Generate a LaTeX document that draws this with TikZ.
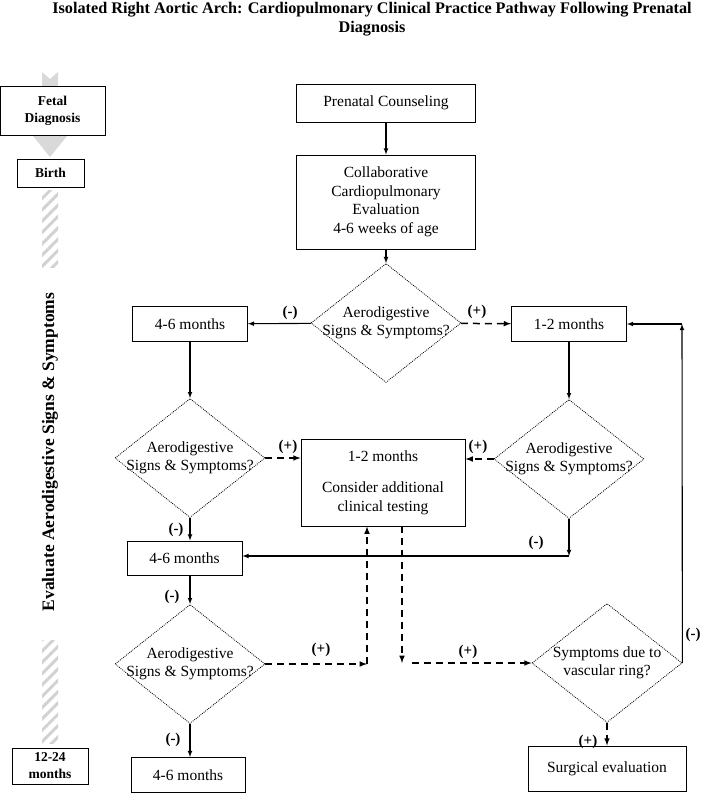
\documentclass[tikz,border=0pt]{standalone}
\usepackage{fontspec}
\setmainfont{Liberation Serif}
\usetikzlibrary{shapes.geometric,patterns.meta}
\newcommand{\flowFont}{\fontsize{15.5}{18.5}\selectfont}
\newcommand{\signFont}{\fontsize{15}{17}\selectfont\bfseries}
\newcommand{\timeFont}{\fontsize{13.5}{17}\selectfont\bfseries}
\newcommand{\aeroQ}{Aerodigestive\\Signs \& Symptoms?}
\tikzset{
  procBox/.style={draw, line width=0.9pt, fill=white, align=center, inner sep=0pt, font=\flowFont},
  timeBox/.style={draw, line width=0.9pt, fill=white, align=center, inner sep=0pt, font=\timeFont},
  decision/.style={diamond, draw, line width=0.8pt, dash pattern=on 0.9pt off 1.1pt,
    inner sep=0pt, minimum width=150pt, minimum height=119pt},
  qText/.style={align=center, font=\flowFont},
  sign/.style={font=\signFont},
  negArrow/.style={->, line width=1.1pt},
  posArrow/.style={->, line width=1.5pt, dash pattern=on 7pt off 5pt},
  hatchBar/.style={pattern={Lines[angle=45,distance=8pt,line width=3pt]}, pattern color=gray!35}
}

\begin{document}
\begin{tikzpicture}[x=1pt,y=-1pt,>=latex]
\useasboundingbox (0,0) rectangle (702,795);

% Title
\node[align=center, font=\fontsize{16.2}{19}\selectfont\bfseries] (title) at (372,19)
  {Isolated Right Aortic Arch: Cardiopulmonary Clinical Practice Pathway Following Prenatal\\Diagnosis};

% Time line on the left
\fill[gray!30] (42,72) -- (50,79) -- (58,72) -- (58,136) -- (67,136) -- (50,157) -- (33,136) -- (42,136) -- cycle;
\node[timeBox, minimum width=105pt, minimum height=49pt] (fetal) at (52.5,111) {Fetal\\Diagnosis};
\node[timeBox, minimum width=67pt, minimum height=28pt] (birth) at (50.5,173) {Birth};
\fill[hatchBar] (42,190) rectangle (58,267);
\node[rotate=90, font=\fontsize{17.5}{20}\selectfont\bfseries] (phase) at (50,452)
  {Evaluate Aerodigestive Signs \& Symptoms};
\fill[hatchBar] (42,640) rectangle (58,743);
\node[timeBox, minimum width=76pt, minimum height=36pt] (late) at (50,766) {12-24\\months};

% Counseling and first evaluation
\node[procBox, minimum width=179pt, minimum height=38pt] (counsel) at (386,103) {Prenatal Counseling};
\node[procBox, minimum width=179pt, minimum height=94pt] (collab) at (386,202)
  {Collaborative\\Cardiopulmonary\\Evaluation\\4-6 weeks of age};
\node[decision, label={[qText]center:\aeroQ}] (d1) at (386,323) {};
\draw[negArrow] (counsel) -- (collab);
\draw[negArrow] (collab) -- (d1);

% First branch
\node[procBox, minimum width=115pt, minimum height=35pt] (m1) at (190,324) {4-6 months};
\node[procBox, minimum width=115pt, minimum height=35pt] (p1) at (569,324) {1-2 months};
\draw[negArrow] (d1) -- (m1);
\draw[posArrow] (d1) -- (p1);
\node[sign] (s1) at (290,313) {(-)};
\node[sign] (s2) at (477,312) {(+)};

% Second row of questions
\node[decision, label={[qText]center:\aeroQ}] (d2) at (190,458) {};
\node[decision, label={[qText]center:\aeroQ}] (d3) at (569,459) {};
\node[procBox, minimum width=164pt, minimum height=87pt] (consider) at (383,482.5)
  {1-2 months\\[13pt]Consider additional\\clinical testing};
\draw[negArrow] (m1) -- (d2);
\draw[negArrow] (p1) -- (d3);
\draw[posArrow] (d2.east) -- (d2.east -| consider.west);
\draw[posArrow] (d3.west) -- (d3.west -| consider.east);
\node[sign] (s3) at (288,447) {(+)};
\node[sign] (s4) at (478,447) {(+)};

% Back to 4-6 months
\node[procBox, minimum width=115pt, minimum height=34pt] (m2) at (184.5,558) {4-6 months};
\coordinate (jR) at (569,556);
\draw[negArrow] (d2.south) -- (d2.south |- m2.north);
\draw[negArrow] (d3) -- (jR);
\draw[negArrow] (jR) -- (jR -| m2.east);
\node[sign] (s5) at (176,530) {(-)};
\node[sign] (s6) at (536,543) {(-)};

% Last question on the left
\node[decision, label={[qText]center:\aeroQ}] (d4) at (190,664) {};
\node[procBox, minimum width=114pt, minimum height=35pt] (m3) at (188,775) {4-6 months};
\draw[negArrow] (d4.north |- m2.south) -- (d4);
\draw[negArrow] (d4.south) -- (d4.south |- m3.north);
\node[sign] (s7) at (172,597) {(-)};
\node[sign] (s8) at (173,740) {(-)};
\coordinate (jUp) at (367,664);
\draw[posArrow] (d4.east) -- (jUp);
\draw[posArrow] (jUp) -- (jUp |- consider.south);
\node[sign] (s9) at (321,650) {(+)};

% Vascular ring
\node[decision, label={[qText]center:Symptoms due to\\vascular ring?}] (d5) at (607,663) {};
\node[procBox, minimum width=158pt, minimum height=45pt] (surg) at (607,768.5) {Surgical evaluation};
\coordinate (jDown) at (402,663);
\coordinate (jTop) at (682,324);
\draw[posArrow] (jDown |- consider.south) -- (jDown);
\draw[posArrow] ([xshift=10pt]jDown) -- (d5);
\draw[posArrow] (d5) -- (surg);
\draw[negArrow] (d5.east) -- (jTop);
\draw[negArrow] (jTop) -- (p1.east);
\node[sign] (s10) at (468,652) {(+)};
\node[sign] (s11) at (588,742) {(+)};
\node[sign] (s12) at (693,635) {(-)};
\end{tikzpicture}
\end{document}
